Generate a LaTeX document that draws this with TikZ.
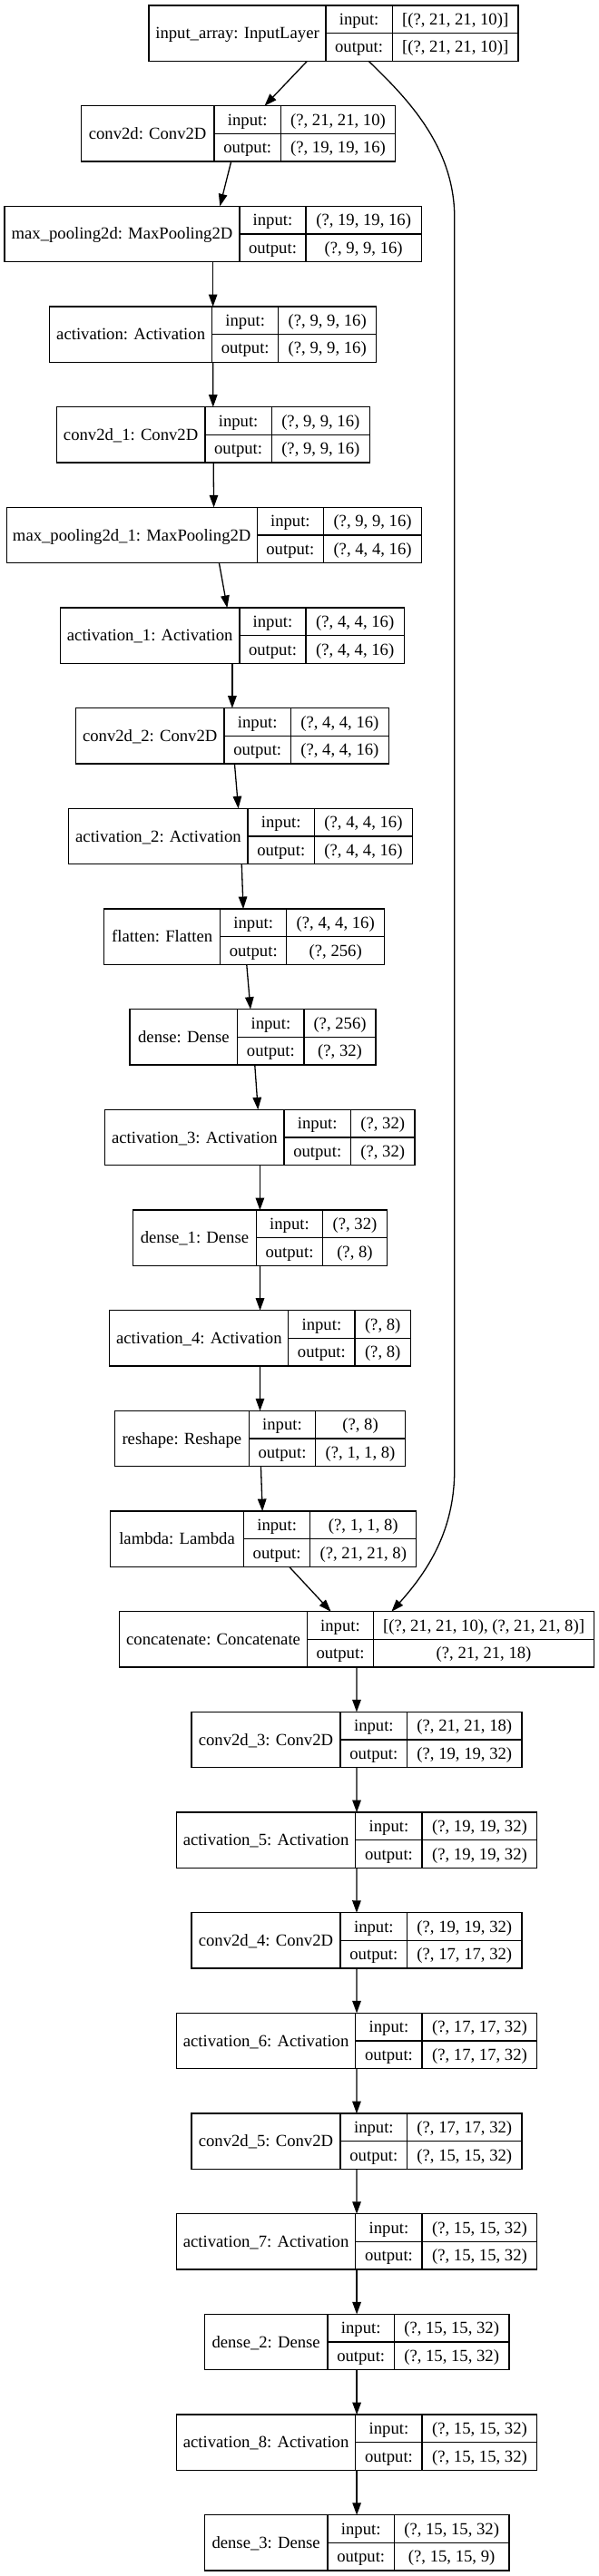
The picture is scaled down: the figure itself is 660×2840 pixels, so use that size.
\documentclass[tikz,border=0pt]{standalone}
\usepackage{fontspec}
\setmainfont{Liberation Serif}
\usetikzlibrary{arrows.meta,calc}
\tikzset{
  kframe/.style={draw, rectangle, inner sep=0pt, outer sep=0pt, minimum height=61.3pt, line width=1.3pt},
  kline/.style={line width=1.3pt},
  ktxt/.style={inner sep=0pt, text height=16pt, text depth=4pt},
  kedge/.style={line width=1.3pt, -{Triangle[length=13.5pt,width=9.5pt]}}
}
\newcommand\kbox[9]{%
  \pgfmathsetmacro\ktop{6+110.67*#2}%
  \pgfmathsetmacro\kmid{\ktop+30.65}%
  \pgfmathsetmacro\kbot{\ktop+61.3}%
  \pgfmathsetmacro\kw{#6-#3}%
  \node[kframe, minimum width=\kw pt] (#1) at ({(#3+#6)/2},\kmid) {};
  \draw[kline] (#4,\ktop) -- (#4,\kbot) (#5,\ktop) -- (#5,\kbot) (#4,\kmid) -- (#6,\kmid);
  \node[ktxt] (#1-name) at ({(#3+#4)/2},\kmid) {#7};
  \node[ktxt] (#1-ik) at ({(#4+#5)/2},{\ktop+15.33}) {input:};
  \node[ktxt] (#1-ok) at ({(#4+#5)/2},{\ktop+45.98}) {output:};
  \node[ktxt] (#1-iv) at ({(#5+#6)/2},{\ktop+15.33}) {#8};
  \node[ktxt] (#1-ov) at ({(#5+#6)/2},{\ktop+45.98}) {#9};
}
\begin{document}
\begin{tikzpicture}[x=1pt, y=-1pt, font=\fontsize{18.67}{22}\selectfont]
\fill[white] (0,0) rectangle (660,2840);
\useasboundingbox (0,0) rectangle (660,2840);
\kbox{ia}{0}{164.1}{359.0}{432.2}{571.1}{input\_array: InputLayer}{[(?, 21, 21, 10)]}{[(?, 21, 21, 10)]}
\kbox{c0}{1}{89.2}{236.1}{309.3}{435.6}{conv2d: Conv2D}{(?, 21, 21, 10)}{(?, 19, 19, 16)}
\kbox{mp0}{2}{5.1}{263.9}{337.1}{464.2}{max\_pooling2d: MaxPooling2D}{(?, 19, 19, 16)}{(?, 9, 9, 16)}
\kbox{a0}{3}{54.7}{233.6}{306.8}{414.6}{activation: Activation}{(?, 9, 9, 16)}{(?, 9, 9, 16)}
\kbox{c1}{4}{62.3}{226.0}{299.2}{407.4}{conv2d\_1: Conv2D}{(?, 9, 9, 16)}{(?, 9, 9, 16)}
\kbox{mp1}{5}{7.2}{283.2}{356.5}{464.6}{max\_pooling2d\_1: MaxPooling2D}{(?, 9, 9, 16)}{(?, 4, 4, 16)}
\kbox{a1}{6}{66.5}{263.9}{337.1}{445.3}{activation\_1: Activation}{(?, 4, 4, 16)}{(?, 4, 4, 16)}
\kbox{c2}{7}{83.3}{247.1}{320.3}{428.5}{conv2d\_2: Conv2D}{(?, 4, 4, 16)}{(?, 4, 4, 16)}
\kbox{a2}{8}{75.8}{273.1}{346.4}{454.5}{activation\_2: Activation}{(?, 4, 4, 16)}{(?, 4, 4, 16)}
\kbox{fl}{9}{114.5}{242.8}{315.7}{423.8}{flatten: Flatten}{(?, 4, 4, 16)}{(?, 256)}
\kbox{d0}{10}{143.1}{261.8}{335.0}{414.1}{dense: Dense}{(?, 256)}{(?, 32)}
\kbox{a3}{11}{115.7}{313.1}{386.4}{457.1}{activation\_3: Activation}{(?, 32)}{(?, 32)}
\kbox{d1}{12}{146.5}{282.4}{355.6}{426.3}{dense\_1: Dense}{(?, 32)}{(?, 8)}
\kbox{a4}{13}{120.8}{317.8}{391.0}{452.4}{activation\_4: Activation}{(?, 8)}{(?, 8)}
\kbox{rs}{14}{126.3}{274.4}{347.6}{446.5}{reshape: Reshape}{(?, 8)}{(?, 1, 1, 8)}
\kbox{la}{15}{121.6}{268.5}{341.8}{458.8}{lambda: Lambda}{(?, 1, 1, 8)}{(?, 21, 21, 8)}
\kbox{cc}{16}{131.7}{338.4}{411.6}{654.5}{concatenate: Concatenate}{[(?, 21, 21, 10), (?, 21, 21, 8)]}{(?, 21, 21, 18)}
\kbox{c3}{17}{210.9}{375.0}{448.7}{574.9}{conv2d\_3: Conv2D}{(?, 21, 21, 18)}{(?, 19, 19, 32)}
\kbox{a5}{18}{194.4}{391.8}{465.1}{591.8}{activation\_5: Activation}{(?, 19, 19, 32)}{(?, 19, 19, 32)}
\kbox{c4}{19}{210.9}{375.0}{448.7}{574.9}{conv2d\_4: Conv2D}{(?, 19, 19, 32)}{(?, 17, 17, 32)}
\kbox{a6}{20}{194.4}{391.8}{465.1}{591.8}{activation\_6: Activation}{(?, 17, 17, 32)}{(?, 17, 17, 32)}
\kbox{c5}{21}{210.9}{375.0}{448.7}{574.9}{conv2d\_5: Conv2D}{(?, 17, 17, 32)}{(?, 15, 15, 32)}
\kbox{a7}{22}{194.4}{391.8}{465.1}{591.8}{activation\_7: Activation}{(?, 15, 15, 32)}{(?, 15, 15, 32)}
\kbox{d2}{23}{225.2}{361.1}{434.3}{561.0}{dense\_2: Dense}{(?, 15, 15, 32)}{(?, 15, 15, 32)}
\kbox{a8}{24}{194.4}{391.8}{465.1}{591.8}{activation\_8: Activation}{(?, 15, 15, 32)}{(?, 15, 15, 32)}
\kbox{d3}{25}{225.2}{361.1}{434.3}{561.0}{dense\_3: Dense}{(?, 15, 15, 32)}{(?, 15, 15, 9)}
% connectors
\foreach \s/\t in {ia/c0, c0/mp0, mp0/a0, a0/c1, c1/mp1, mp1/a1, a1/c2, c2/a2, a2/fl, fl/d0, d0/a3, a3/d1, d1/a4, a4/rs, rs/la, la/cc, cc/c3, c3/a5, a5/c4, c4/a6, a6/c5, c5/a7, a7/d2, d2/a8, a8/d3}
  \draw[kedge] (\s) -- (\t);
\coordinate (k1) at (500.8,240);
\coordinate (k2) at (500.8,1620);
\draw[kedge] ([xshift=38.5pt]ia.south) .. controls (446,106) and (500.8,160) .. (k1) -- (k2) .. controls (500.8,1680) and (478,1725) .. ([xshift=38.3pt]cc.north);
\end{tikzpicture}
\end{document}
